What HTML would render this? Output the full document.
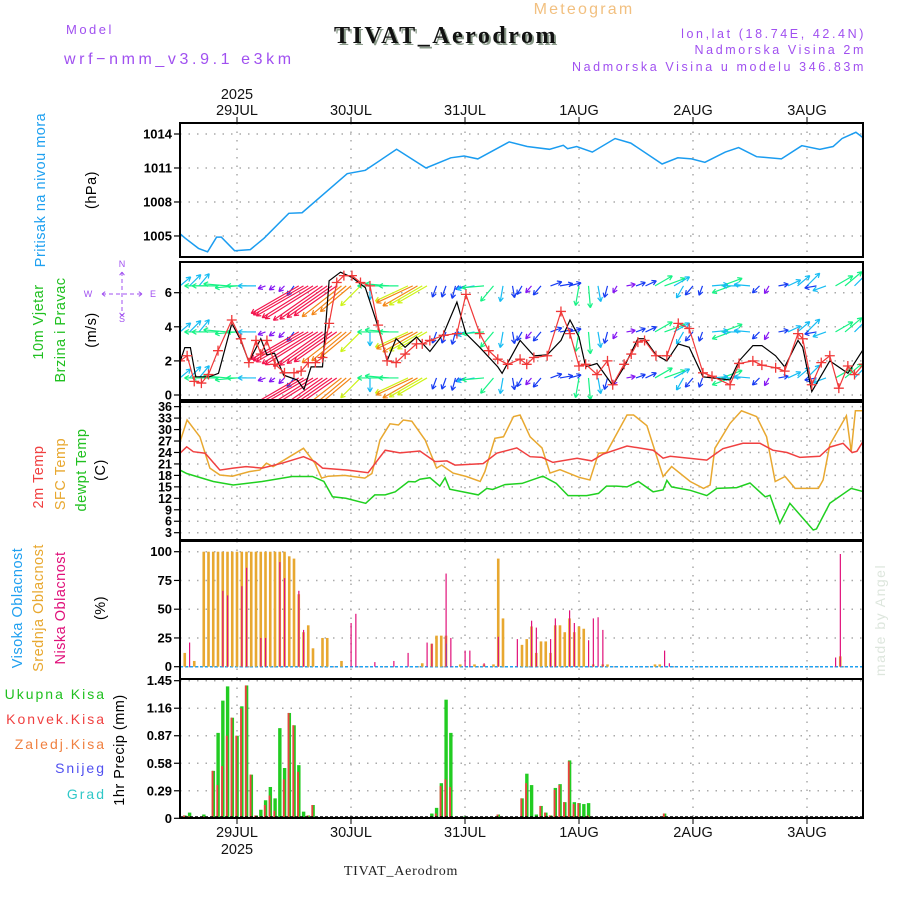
<!DOCTYPE html>
<html><head><meta charset="utf-8"><style>
body{margin:0;background:#fff;}
svg{display:block;font-family:"Liberation Sans",sans-serif;}
</style></head><body>
<svg id="chart" width="900" height="900" viewBox="0 0 900 900" xmlns="http://www.w3.org/2000/svg">
<rect width="900" height="900" fill="#fff"/>
<text x="584" y="14" fill="#f2c080" font-size="16" text-anchor="middle" letter-spacing="2.2">Meteogram</text>
<text x="66" y="34" fill="#a050f0" font-size="13" letter-spacing="2.5">Model</text>
<text x="64" y="64" fill="#a050f0" font-size="16" letter-spacing="3.6">wrf−nmm_v3.9.1 e3km</text>
<text x="448" y="45" fill="#8a9a8a" font-family="Liberation Serif,serif" font-weight="bold" font-size="24" text-anchor="middle" letter-spacing="2.5">TIVAT_Aerodrom</text>
<text x="446" y="43" fill="#111" font-family="Liberation Serif,serif" font-weight="bold" font-size="24" text-anchor="middle" letter-spacing="2.5">TIVAT_Aerodrom</text>
<text x="866" y="38" fill="#a050f0" font-size="12.5" text-anchor="end" letter-spacing="2.6">lon,lat (18.74E, 42.4N)</text>
<text x="866" y="54" fill="#a050f0" font-size="12.5" text-anchor="end" letter-spacing="2.6">Nadmorska Visina 2m</text>
<text x="866" y="71" fill="#a050f0" font-size="12.5" text-anchor="end" letter-spacing="2.6">Nadmorska Visina u modelu 346.83m</text>
<text x="401" y="875" fill="#222" font-family="Liberation Serif,serif" font-size="14" text-anchor="middle" letter-spacing="0.8">TIVAT_Aerodrom</text>
<text transform="translate(885,620) rotate(-90)" fill="#dde6dd" font-size="14" text-anchor="middle" letter-spacing="1.5">made by Angel</text>
<g id="layer"></g>
</svg>
<script>
// ---- data (hours since 28JUL 12:00) ----
const dayLabels=["29JUL","30JUL","31JUL","1AUG","2AUG","3AUG"];
const dayHours=[12,36,60,84,108,132];
const presTicks=[1005,1008,1011,1014];
const windTicks=[0,2,4,6];
const tempTicks=[3,6,9,12,15,18,21,24,27,30,33,36];
const cloudTicks=[0,25,50,75,100];
const precTicks=[0,0.29,0.58,0.87,1.16,1.45];

const presHours=[0,1.1,3.9,5.8,7.7,8.7,11.5,14.8,17.7,22.9,25.7,35.2,39,45.6,51.8,57,59.8,62.7,69.3,73.1,77.8,80.7,81.6,83.5,86.8,91.6,94.9,101.5,104.8,107.7,110.5,114.8,117.6,121.4,126.6,130.9,134.7,137.5,139.4,142.3,144];
const presVals=[1005.2,1004.8,1003.9,1003.6,1004.9,1004.9,1003.7,1003.8,1004.8,1007.0,1007.05,1010.5,1010.8,1012.65,1011.0,1011.9,1012.06,1011.8,1013.3,1012.9,1012.65,1013.0,1012.7,1012.9,1012.4,1013.6,1013.2,1011.35,1011.9,1011.8,1011.5,1012.4,1012.8,1012.0,1011.8,1012.97,1012.65,1012.9,1013.6,1014.15,1013.6];

const spdHours=[0,1,2.2,3.3,6.2,8.1,10.9,12.8,14.5,17,18.3,19.9,21.8,24.7,26.1,27.6,30,31.4,33.8,36.2,39,41.7,43.6,45.5,47.4,49.8,52.6,55.5,58.3,60.2,63.1,66.9,67.8,71.6,74.5,77.3,80.2,82.1,84,85.4,87.8,91.1,93.5,96.4,97.8,100.2,102.5,104.9,107.2,110.1,115.8,117.7,120.6,122.5,125.4,127.3,130.1,131.1,133,136.8,140.6,143.9,145.6];
const spdVals=[1.95,2.78,2.78,1.07,1.07,1.27,4.2,3.2,1.95,3.3,2.35,2.45,1.17,0.88,0.33,1.65,1.65,6.7,7.2,6.9,6.3,4.0,2.0,3.3,2.8,3.4,2.55,3.6,5.45,3.6,2.8,1.65,1.27,3.2,2.3,2.35,3.2,4.4,3.4,1.65,1.85,0.57,1.65,3.3,3.3,2.35,2.0,3.0,2.8,1.07,0.88,2.0,2.9,2.9,2.3,1.65,3.2,2.8,0.2,2.0,1.27,2.7,2.0];
const gustHours=[0,1.5,3,4.5,6,8,10.9,12.8,14.5,16,17,18.3,20,22,24,25.5,27,28.5,30,31.4,33,34.5,36.2,38,40,41.7,43.6,45.5,47.4,49.8,51,52.6,55.5,58.3,60.2,63.1,65,66.9,69,71.6,73,74.5,77.3,80.2,82.1,84,85.4,87.8,90,91.1,93.5,95,96.4,97.8,100.2,102.5,104.9,107.2,110.1,112,115.8,117.7,120.6,122.5,125.4,127.3,130.1,131.1,133,135,136.8,138.7,140.6,142,143.9];
const gustVals=[2.0,2.3,0.8,0.7,1.2,2.6,4.4,3.3,1.9,3.2,2.4,3.2,1.8,1.3,1.3,1.4,1.9,1.9,2.2,4.2,6.6,7.0,7.0,6.6,6.4,4.1,2.0,1.9,2.4,3.0,3.0,3.2,3.5,3.6,5.9,3.6,2.6,2.1,1.8,2.1,1.8,2.2,2.3,4.9,3.6,1.7,1.8,1.2,2.0,0.6,1.8,2.4,3.1,3.2,2.3,2.3,4.2,3.9,1.3,1.1,0.6,1.85,2.0,1.75,1.6,1.4,3.6,3.3,0.6,1.9,2.3,0.4,1.7,1.2,1.8];

const windHours=[0,2,4,6,8,10,12,14,16,18,20,22,24,25,26,27,28,29,30,31,32,33,34,35,36,38,40,42,44,46,48,49,50,51,52,54,56,58,60,62,64,66,68,70,72,74,76,78,80,82,84,86,88,90,92,94,96,98,100,102,104,106,108,110,112,114,116,118,120,122,124,126,128,130,132,134,136,138,140,142,144];
const windDir=[40,45,50,180,180,175,185,180,180,200,215,225,235,210,210,210,212,212,215,215,215,215,218,220,220,225,270,180,175,180,205,205,210,210,210,250,250,255,200,190,185,230,260,280,240,230,230,20,10,15,260,275,280,255,240,10,20,25,30,20,30,240,230,250,5,20,200,180,175,225,240,10,25,40,45,190,200,30,40,45,40];
const windSpd=[14,16,16,24,26,24,22,20,18,8,7,8,12,55,58,60,60,62,60,58,55,52,50,45,40,28,14,22,24,20,36,40,40,38,34,12,12,13,10,18,22,20,16,12,10,9,12,12,13,12,20,22,16,12,8,9,10,12,20,22,18,14,12,10,16,22,20,18,16,10,9,10,14,16,18,12,14,20,22,18,16];
const windLevels=[6.4,3.7,1.0];

const t2Hours=[0,1.4,2.8,5.3,8.4,11.2,13.9,17.3,21.5,26,28.4,30,35.4,39.6,43.2,46.3,50.5,53.7,56.2,57.9,63.8,66.7,70.9,73.7,76.2,78.5,83.6,86.7,89.1,94.1,99.6,101.7,103.2,110.9,114.3,118.5,122.1,124.8,127.8,130.5,134.7,136.8,139.6,141.5,142.5,144];
const t2Vals=[23.8,25.5,24.2,23.8,19.4,19.9,20.3,19.9,21.2,22.9,21.6,19.9,19.4,18.7,24.6,23.9,24.4,21.6,21.8,20.7,21.1,23.8,25.2,22.9,22.7,21.4,22.5,21.8,23.6,25.7,24.6,22.5,23.0,22.0,25.0,26.4,26.4,24.6,24.0,22.7,23.0,25.4,26.4,24.0,24.3,27.3];
const sfcHours=[0,1.5,4.2,6.3,8.4,11,14.6,16.8,18.2,19.6,26,28.4,29.8,31.2,34.7,38.9,40.4,42.1,44.2,46,47,48.8,51.6,54,55.1,57.5,60.3,63.2,64.2,66.3,68.1,70.2,71.6,73.7,76.2,77.9,80,84,86.3,88.1,89.8,94.1,95.5,98.3,101.7,103.5,107.4,110.2,111.6,112.6,115.8,118.2,121.4,123.5,125.3,127.4,129.5,134.4,135.4,136.8,140.3,141.3,142.2,144];
const sfcVals=[26.8,32.5,28.1,19.9,18.1,17.8,19.0,19.4,21.2,20.3,25.1,21.2,17.3,17.8,18.0,17.3,18.5,27.3,31.5,31.2,32.5,32.2,27.3,19.9,20.7,18.6,17.7,16.4,19.0,27.7,28.1,33.4,33.8,28.1,25.2,18.6,19.5,17.5,16.8,23.8,24.0,33.8,33.8,31.0,17.7,20.3,16.4,14.6,15.5,25.1,31.6,34.9,33.4,28.1,16.4,17.7,14.6,14.6,16.8,26.0,33.6,24.2,34.9,34.9];
const dewHours=[0,1.4,3.5,7,11.2,17.3,23.6,27.9,30.3,32.1,34.9,39.1,41,43.2,45.3,48.1,49.5,50.5,52.6,54.7,55.8,56.8,62.8,64.6,65.8,68.4,72,76.4,79.2,81.7,85.6,88.1,89.8,91.9,94.1,96.5,99.6,101.7,102.5,103.5,107.4,110.9,113,117.2,120,123.2,124.2,126.3,128.4,133.3,134,136.8,141.3,144];
const dewVals=[19.4,18.5,17.7,16.4,15.5,16.4,17.7,17.7,16.4,12.4,12.0,10.7,12.9,12.9,13.7,16.4,16.3,17.0,17.4,15.2,17.4,14.4,12.9,14.6,14.3,15.6,15.9,17.8,15.9,12.7,12.7,13.3,15.2,15.2,15.0,16.4,13.7,14.2,16.7,15.0,14.1,12.7,14.6,14.8,16.0,12.4,12.8,5.5,10.7,3.7,4.0,10.7,14.6,13.7];

const midHours=[1,3,5,6,7,8,9,10,11,12,13,14,15,16,17,18,19,20,21,22,23,24,25,26,27,28,30,31,34,51,53,54,55,56,59,62,64,66,67,68,72,73,74,75,76,77,78,79,80,81,82,83,84,85,87,89,90,100,101,139];
const midVals=[12,5,100,100,100,100,100,100,100,100,100,100,100,100,100,100,100,100,100,100,96,94,63,30,36,16,25,25,5,3,20,27,27,27,2,2,2,2,94,42,19,24,35,12,22,22,12,36,36,30,42,30,35,33,2,2,2,2,2,9];
const lowHours=[2,9,10,13,14,17,18,21,22,25,26,36,37,45,41,48,52,53,56,57,60,61,64,67,71,74,75,78,79,82,83,86,87,88,89,102,103,138,139];
const lowVals=[21,66,62,70,86,25,25,91,77,66,32,38,46,5,4,12,21,20,81,25,14,14,3,26,24,40,34,24,42,49,38,23,42,43,32,14,3,8,98];
const highHours=[56];
const highVals=[20];

const precHours=[1,2,5,7,8,9,10,11,12,13,14,15,16,17,18,19,20,21,22,23,24,25,26,27,28,53,54,55,56,57,60,67,72,73,74,75,76,77,78,79,80,81,82,83,84,85,86,102];
const totalVals=[0.03,0.06,0.04,0.5,0.9,1.24,1.39,1.06,0.87,1.18,1.40,0.46,0.03,0.09,0.19,0.33,0.21,0.95,0.53,1.11,0.98,0.56,0.07,0.03,0.14,0.05,0.11,0.37,1.25,0.90,0.02,0.04,0.21,0.47,0.35,0.04,0.13,0.06,0.03,0.32,0.36,0.17,0.61,0.17,0.16,0.15,0.16,0.05];
const convVals=[0.03,0.02,0.02,0.5,0.35,0.55,0.87,1.06,0.87,1.16,1.40,0.46,0.03,0.02,0.14,0.24,0.08,0.0,0.41,1.11,0.98,0.49,0.0,0.03,0.14,0.02,0.05,0.34,0.41,0.33,0.0,0.04,0.21,0.37,0.0,0.0,0.13,0.06,0.03,0.30,0.35,0.17,0.60,0.15,0.16,0.0,0.03,0.05];

// ---- scales ----
const X0=180,X1=863;
const xH=h=>X0+h*4.75;
const yP=p=>134+(1014-p)*11.33;
const yW=v=>395-v*17.05;
const yT=t=>532.7-(t-3)*3.82;
const yC=c=>666.7-c*1.15;
const yR=r=>818.3-r*94.9;
const panels=[[123,257],[262,400],[402,540],[541,679],[679,818]];

const NS="http://www.w3.org/2000/svg";
const layer=document.getElementById('layer');
function mk(tag,attrs,parent){const e=document.createElementNS(NS,tag);for(const k in attrs)e.setAttribute(k,attrs[k]);(parent||layer).appendChild(e);return e;}

const defs=mk('defs',{});
panels.forEach((p,i)=>{const c=mk('clipPath',{id:'clip'+i},defs);mk('rect',{x:X0,y:p[0],width:X1-X0,height:p[1]-p[0]},c);});

function hgrid(vals,fy,pi){vals.forEach(v=>{const y=fy(v);
  const g=mk('line',{x1:X0,x2:X1,y1:y,y2:y,stroke:'#aaa','stroke-width':1.5,'stroke-dasharray':'1.5,7'});
  
  
  const t=mk('line',{x1:X0-6,x2:X0,y1:y,y2:y,stroke:'#000','stroke-width':1.2});
  
  });}
hgrid(presTicks,yP,0);hgrid(windTicks,yW,1);hgrid(tempTicks,yT,2);hgrid(cloudTicks,yC,3);hgrid(precTicks,yR,4);
panels.forEach(p=>{dayHours.forEach(h=>{const x=xH(h);
  const g=mk('line',{x1:x,x2:x,y1:p[0],y2:p[1],stroke:'#aaa','stroke-width':1.5,'stroke-dasharray':'1.5,7'});
  
  });});

function ylabels(vals,fy,fmt,fs){vals.forEach(v=>{
  const t=mk('text',{x:X0-8,y:fy(v)+4.5,'text-anchor':'end','font-size':fs,'font-weight':'bold',fill:'#000'});
  t.textContent=fmt(v);
  
  });}
ylabels(presTicks,yP,v=>v,13);ylabels(windTicks,yW,v=>v,13);ylabels(tempTicks,yT,v=>v,12.5);
ylabels(cloudTicks,yC,v=>v,13);ylabels(precTicks,yR,v=>v===0?'0':(v===1.45?'1.45':v.toFixed(2)),13);

dayHours.forEach((h,i)=>{const x=xH(h);
  const t1=mk('text',{x:x,y:115,'text-anchor':'middle','font-size':14.5,fill:'#111'});t1.textContent=dayLabels[i];
  
  
  const t2=mk('text',{x:x,y:837,'text-anchor':'middle','font-size':14.5,fill:'#111'});t2.textContent=dayLabels[i];
  
  
  mk('line',{x1:x,x2:x,y1:117,y2:123,stroke:'#000'});mk('line',{x1:x,x2:x,y1:818,y2:824,stroke:'#000'});});
const yr1=mk('text',{x:xH(12),y:99,'text-anchor':'middle','font-size':14.5,fill:'#111'});yr1.textContent='2025';


const yr2=mk('text',{x:xH(12),y:854,'text-anchor':'middle','font-size':14.5,fill:'#111'});yr2.textContent='2025';



function line(hs,vs,fy,col,w,name,clip){const d=hs.map((h,i)=>(i?'L':'M')+xH(h).toFixed(1)+','+fy(vs[i]).toFixed(1)).join('');
  const p=mk('path',{d:d,fill:'none',stroke:col,'stroke-width':w,'clip-path':'url(#'+clip+')'});
  
  return p;}
line(presHours,presVals,yP,'#1a9cf0',1.5,'pressure-line','clip0');

const wg=mk('g',{'clip-path':'url(#clip1)'});


function windColor(s){const hue=s<10?270:s<14?230:s<20?195:s<28?150:s<40?70:s<52?30:345;return 'hsl('+hue+',90%,52%)';}
windLevels.forEach(lv=>{windHours.forEach((h,i)=>{const x=xH(h),y=yW(lv),a=windDir[i]*Math.PI/180,L=windSpd[i];
  const x2=x+L*Math.cos(a),y2=y-L*Math.sin(a),c=windColor(L);
  const ar=mk('path',{d:`M${x},${y}L${x2},${y2}M${x2},${y2}L${x2-5*Math.cos(a-0.5)},${y2+5*Math.sin(a-0.5)}M${x2},${y2}L${x2-5*Math.cos(a+0.5)},${y2+5*Math.sin(a+0.5)}`,stroke:c,'stroke-width':1.2,fill:'none'},wg);
  
  });});
line(spdHours,spdVals,yW,'#000',1.2,'wind-speed-line','clip1');
line(gustHours,gustVals,yW,'#f03838',1.2,'wind-gust-line','clip1');
gustHours.forEach((h,i)=>{const x=xH(h),y=yW(gustVals[i]);
  const c=mk('path',{d:`M${x-5},${y}H${x+5}M${x},${y-5}V${y+5}`,stroke:'#f03838','stroke-width':1.3,'clip-path':'url(#clip1)'});
  
  });

line(sfcHours,sfcVals,yT,'#e8a830',1.5,'sfc-temp-line','clip2');
line(t2Hours,t2Vals,yT,'#f04040',1.5,'temp-2m-line','clip2');
line(dewHours,dewVals,yT,'#20d020',1.5,'dewpoint-line','clip2');

const bl=mk('line',{x1:X0,x2:X1,y1:yC(0),y2:yC(0),stroke:'#20a0f0','stroke-width':1.5,'stroke-dasharray':'3,2'});


midHours.forEach((h,i)=>{const b=mk('rect',{x:xH(h)-1.3,y:yC(midVals[i]),width:2.6,height:yC(0)-yC(midVals[i]),fill:'#e8a830'});
  
  });
highHours.forEach((h,i)=>{const b=mk('rect',{x:xH(h)-0.5,y:yC(highVals[i]),width:1.5,height:yC(0)-yC(highVals[i]),fill:'#20a0f0'});
  
  });
lowHours.forEach((h,i)=>{const b=mk('rect',{x:xH(h)-0.5,y:yC(lowVals[i]),width:1.2,height:yC(0)-yC(lowVals[i]),fill:'#e0107a'});
  
  });

precHours.forEach((h,i)=>{const x=xH(h);
  const b=mk('rect',{x:x-1.6,y:yR(totalVals[i]),width:3.4,height:yR(0)-yR(totalVals[i]),fill:'#22cc22'});
  
  
  if(convVals[i]>0){const c=mk('rect',{x:x-1.6,y:yR(convVals[i]),width:1.8,height:yR(0)-yR(convVals[i]),fill:'#f04040'});
  
  }});
mk('line',{x1:X0,x2:X1,y1:817,y2:817,stroke:'#000','stroke-width':1.5,'stroke-dasharray':'3,2'});

panels.forEach((p,i)=>{const r=mk('rect',{x:X0,y:p[0],width:X1-X0,height:p[1]-p[0],fill:'none',stroke:'#000','stroke-width':2});
  
  });

function rlab(x,y,txt,col,name,fs){const t=mk('text',{transform:`translate(${x},${y}) rotate(-90)`,'text-anchor':'middle','font-size':fs||14.5,fill:col,'letter-spacing':0.5});t.textContent=txt;
  
  }
rlab(45,190,'Pritisak na nivou mora','#1ea0f0','pressure-title');
rlab(96,190,'(hPa)','#000','pressure-unit');
rlab(43,322,'10m Vjetar','#20c020','wind-title');
rlab(65,330,'Brzina i Pravac','#20c020','wind-subtitle');
rlab(96,330,'(m/s)','#000','wind-unit');
rlab(43,477,'2m Temp','#f04040','temp-2m-title');
rlab(65,474,'SFC Temp','#e8a830','sfc-temp-title');
rlab(86,470,'dewpt Temp','#20c020','dewpt-title');
rlab(105,470,'(C)','#000','temp-unit');
rlab(22,608,'Visoka Oblacnost','#20a0f0','high-cloud-title');
rlab(43,608,'Srednja Oblacnost','#e8a830','mid-cloud-title');
rlab(65,608,'Niska Oblacnost','#e0107a','low-cloud-title');
rlab(105,608,'(%)','#000','cloud-unit');
rlab(124,750,'1hr Precip (mm)','#000','precip-title');
[['Ukupna  Kisa','#20c020',699],['Konvek.Kisa','#f04040',724],['Zaledj.Kisa','#f08040',749],['Snijeg','#5050f0',773],['Grad','#30c8c8',799]].forEach(a=>{
  const t=mk('text',{x:106,y:a[2],'text-anchor':'end','font-size':14,fill:a[1],'letter-spacing':2});t.textContent=a[0];
  
  });
const cg=mk('g',{fill:'#a050f0','font-size':9});


[['N',122,267],['S',122,322],['W',88,297],['E',153,297]].forEach(a=>{const t=mk('text',{x:a[1],y:a[2],'text-anchor':'middle'},cg);t.textContent=a[0];});
mk('path',{d:'M102,294H142M122,272V316M102,294l4,-3M102,294l4,3M142,294l-4,-3M142,294l-4,3M122,272l-3,4M122,272l3,4M122,316l-3,-4M122,316l3,-4',stroke:'#a050f0','stroke-width':1,'stroke-dasharray':'4,3',fill:'none'},cg);
</script>
</body></html>
